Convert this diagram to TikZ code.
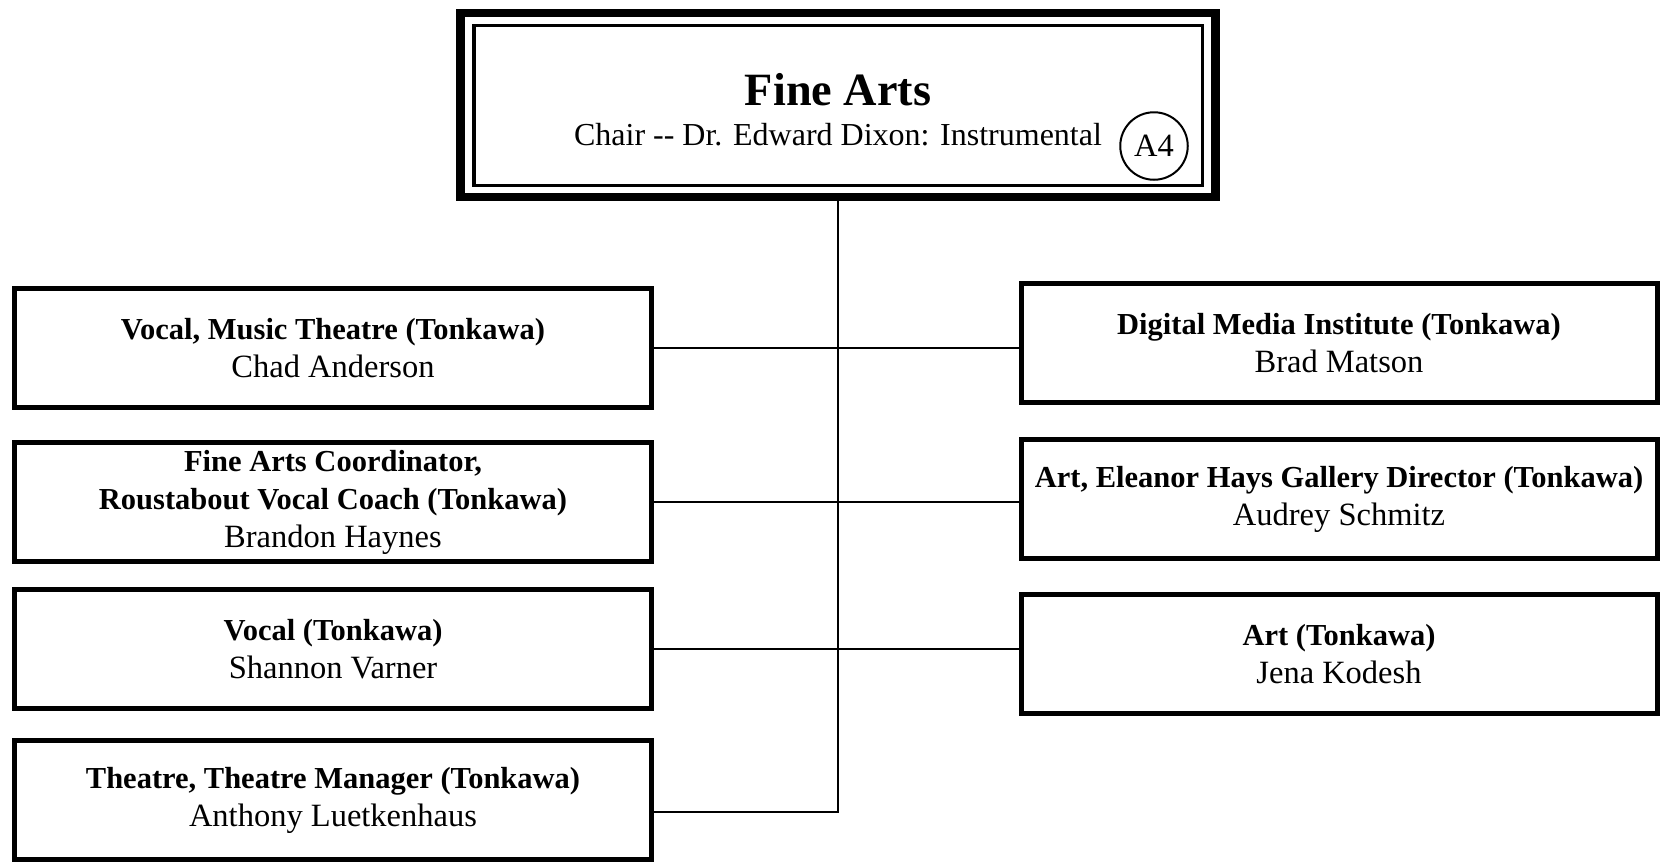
\documentclass[tikz,border=0pt]{standalone}
\usepackage{fontspec}
\setmainfont{Liberation Serif}
\usepackage{tikz}
\newcommand\dept[1]{{\fontsize{12.2}{15.2}\selectfont\bfseries #1}}

\begin{document}
\begin{tikzpicture}[x=0.4pt,y=-0.4pt,
    headframe/.style={draw,line width=3.4pt,inner sep=0pt,minimum width=302pt,minimum height=73.6pt},
    headbox/.style={draw,line width=1.2pt,inner sep=0pt,minimum width=291.2pt,minimum height=64pt},
    unitbox/.style={draw,line width=2pt,inner sep=0pt,minimum width=254.4pt,minimum height=47.6pt,
        align=center,font=\fontsize{13}{15.2}\selectfont},
    link/.style={draw,line width=0.8pt}]
        \useasboundingbox (0,0) rectangle (1660,862);

        % head of the department
        \node[headframe] (frame) at (838,105) {};
        \node[headbox] (head) at (838,105) {};
        \node[anchor=base,font=\fontsize{18.5}{22}\selectfont\bfseries] (title) at (838,105) {Fine Arts};
        \node[anchor=base,font=\fontsize{12.8}{15.2}\selectfont] (chair) at (838,145) {Chair -{}- Dr. Edward Dixon: Instrumental};
        \node[draw,circle,line width=0.8pt,inner sep=0pt,minimum size=27pt,font=\fontsize{13}{15.2}\selectfont] (code) at (1154,146) {A4};

        % left column
        \node[unitbox] (l1) at (333,348) {\dept{Vocal, Music Theatre (Tonkawa)}\\Chad Anderson};
        \node[unitbox] (l2) at (333,502) {\dept{Fine Arts Coordinator,}\\\dept{Roustabout Vocal Coach (Tonkawa)}\\Brandon Haynes};
        \node[unitbox] (l3) at (333,649) {\dept{Vocal (Tonkawa)}\\Shannon Varner};
        \node[unitbox] (l4) at (333,800) {\dept{Theatre, Theatre Manager (Tonkawa)}\\Anthony Luetkenhaus};

        % right column
        \node[unitbox] (r1) at (1339,343) {\dept{Digital Media Institute (Tonkawa)}\\Brad Matson};
        \node[unitbox] (r2) at (1339,499) {\dept{Art, Eleanor Hays Gallery Director (Tonkawa)}\\Audrey Schmitz};
        \node[unitbox] (r3) at (1339,654) {\dept{Art (Tonkawa)}\\Jena Kodesh};

        % lines
        \coordinate (bend) at (838,812);
        \draw[link] (frame.south) -- (bend) -- (l4.east |- bend);
        \draw[link] (l1.east) -- (l1.east -| r1.west);
        \draw[link] (l2.east) -- (l2.east -| r2.west);
        \draw[link] (l3.east) -- (l3.east -| r3.west);
\end{tikzpicture}
\end{document}
